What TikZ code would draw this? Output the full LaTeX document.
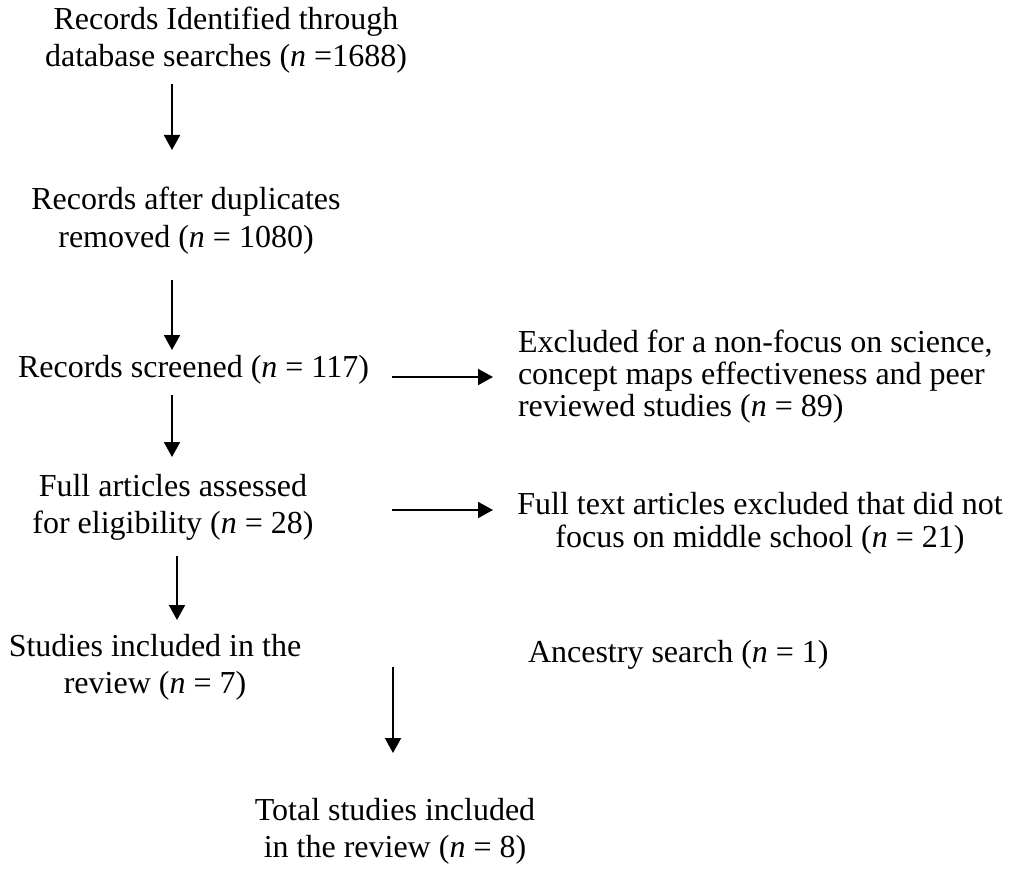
\documentclass[tikz,border=0pt]{standalone}
\usepackage{fontspec}
\setmainfont{Liberation Serif}
\usetikzlibrary{arrows.meta}
\begin{document}
\begin{tikzpicture}[x=1pt,y=-1pt,
  every node/.style={inner sep=0pt, outer sep=0pt},
  txt/.style={font=\fontsize{32}{37}\selectfont, align=center, anchor=base},
  arr/.style={line width=2pt, -{Triangle[length=15pt,width=16pt]}}]
\useasboundingbox (0,0) rectangle (1014,869);
\fill[white] (0,0) rectangle (1014,869);
% texts (anchor base = baseline of the last line)
\node[txt] (t1) at (226,67) {Records Identified through\\database searches (\textit{n} =1688)};
\node[txt] (t2) at (186,247) {Records after duplicates\\removed (\textit{n} = 1080)};
\node[txt, anchor=base west] (t3) at (18,377) {Records screened (\textit{n} = 117)};
\node[txt] (t4) at (173,533) {Full articles assessed\\for eligibility (\textit{n} = 28)};
\node[txt] (t5) at (155,693) {Studies included in the\\review (\textit{n} = 7)};
\node[txt, align=left, anchor=base west, font=\fontsize{32}{32}\selectfont] (t6) at (518,416) {Excluded for a non-focus on science,\\concept maps effectiveness and peer\\reviewed studies (\textit{n} = 89)};
\node[txt, font=\fontsize{32}{33}\selectfont] (t7) at (760,547) {Full text articles excluded that did not\\focus on middle school (\textit{n} = 21)};
\node[txt, anchor=base west] (t8) at (528,662) {Ancestry search (\textit{n} = 1)};
\node[txt] (t9) at (395,857) {Total studies included\\in the review (\textit{n} = 8)};
% arrow end points
\coordinate (a1s) at (172,84);  \coordinate (a1e) at (172,150);
\coordinate (a2s) at (172,280); \coordinate (a2e) at (172,350);
\coordinate (a3s) at (172,395); \coordinate (a3e) at (172,457);
\coordinate (a4s) at (177,556); \coordinate (a4e) at (177,620);
\coordinate (a5s) at (393,667); \coordinate (a5e) at (393,753);
\coordinate (h1s) at (392,377); \coordinate (h1e) at (493,377);
\coordinate (h2s) at (392,510); \coordinate (h2e) at (493,510);
% arrows
\draw[arr] (a1s) -- (a1e);
\draw[arr] (a2s) -- (a2e);
\draw[arr] (a3s) -- (a3e);
\draw[arr] (a4s) -- (a4e);
\draw[arr] (a5s) -- (a5e);
\draw[arr] (h1s) -- (h1e);
\draw[arr] (h2s) -- (h2e);
\end{tikzpicture}
\end{document}
